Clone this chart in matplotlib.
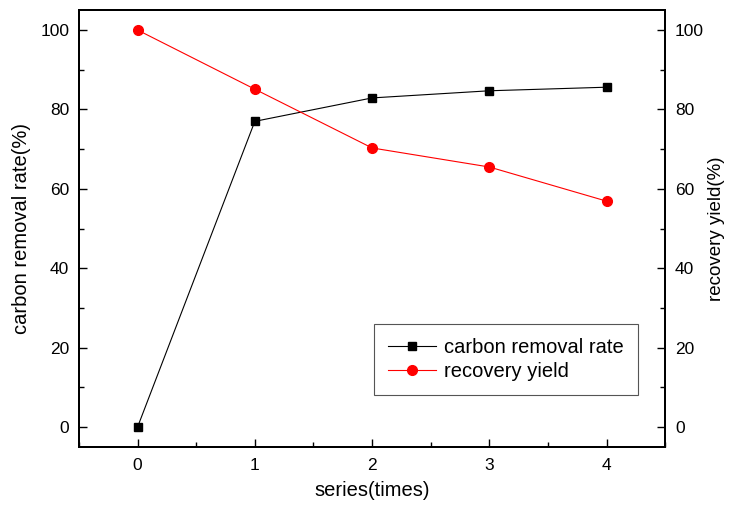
import matplotlib.pyplot as plt
from matplotlib.ticker import MultipleLocator

plt.rcParams['font.family'] = ['Liberation Sans', 'DejaVu Sans']

series = [0, 1, 2, 3, 4]
carbon_removal = [0, 77.0, 82.9, 84.7, 85.6]
recovery_yield = [100, 85.1, 70.3, 65.5, 56.9]

fig = plt.figure(figsize=(7.31, 5.09), dpi=100)
ax1 = fig.add_axes([0.108, 0.122, 0.802, 0.858])
ax2 = ax1.twinx()

l1, = ax1.plot(series, carbon_removal, color='black', lw=0.8, marker='s',
               ms=6, label='carbon removal rate')
l2, = ax2.plot(series, recovery_yield, color='red', lw=0.8, marker='o',
               ms=7, label='recovery yield')

for ax in (ax1, ax2):
    ax.set_ylim(-5, 105)
    ax.yaxis.set_major_locator(MultipleLocator(20))
    ax.yaxis.set_minor_locator(MultipleLocator(10))
    ax.tick_params(which='both', direction='in', labelsize=12.5)
    ax.tick_params(which='major', length=6, width=1)
    ax.tick_params(which='minor', length=3.5, width=1)
    for s in ax.spines.values():
        s.set_linewidth(1.4)

ax1.set_xlim(-0.5, 4.5)
ax1.xaxis.set_major_locator(MultipleLocator(1))
ax1.xaxis.set_minor_locator(MultipleLocator(0.5))
ax1.tick_params(axis='y', pad=7)
ax2.tick_params(axis='y', pad=7)
ax1.tick_params(axis='x', pad=8)

ax1.set_xlabel('series(times)', fontsize=14.5, labelpad=6)
ax1.set_ylabel('carbon removal rate(%)', fontsize=14.5, labelpad=7)
ax2.set_ylabel('recovery yield(%)', fontsize=13.5, labelpad=3)

leg = ax1.legend(handles=[l1, l2], loc='lower right', bbox_to_anchor=(0.954, 0.119),
                 fontsize=14.5, fancybox=False, framealpha=1, edgecolor='#555555',
                 handlelength=2.4, handletextpad=0.4, borderpad=0.7,
                 labelspacing=0.25, borderaxespad=0)
leg.get_frame().set_linewidth(0.8)

fig.savefig('out.png', dpi=100)
